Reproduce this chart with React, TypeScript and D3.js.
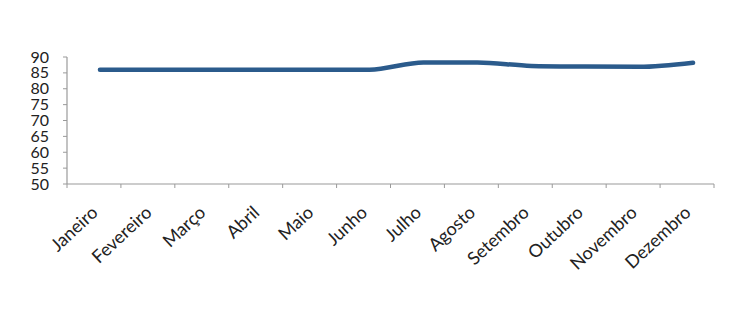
import React from "react";
import * as d3 from "d3";

const months = ["Janeiro", "Fevereiro", "Março", "Abril", "Maio", "Junho", "Julho", "Agosto", "Setembro", "Outubro", "Novembro", "Dezembro"];
const values = [86, 86, 86, 86, 86, 86, 88.3, 88.3, 87.2, 87, 86.9, 88.2];
const yTicks = [50, 55, 60, 65, 70, 75, 80, 85, 90];

const W = 749, H = 331;
const left = 67, right = 714, top = 57, bottom = 184;
const font = "'Lato', 'Open Sans', sans-serif";

export default function App() {
  const x = d3.scaleBand<string>().domain(months).range([left, right]);
  const xLine = d3.scaleBand<string>().domain(months).range([left + 6, right + 6]);
  const y = d3.scaleLinear().domain([50, 90]).range([bottom, top]);
  const line = d3
    .line<number>()
    .x((_, i) => (xLine(months[i]) as number) + xLine.bandwidth() / 2)
    .y((d) => y(d))
    .curve(d3.curveMonotoneX);
  const boundaries = d3.range(months.length + 1).map((i) => left + i * x.step());
  return (
    <svg width={W} height={H} style={{ position: "absolute", left: 0, top: 0, background: "#fff" }}>
      <line x1={left} x2={left} y1={top} y2={bottom} stroke="#9a9a9a" strokeWidth={1.2} />
      {yTicks.map((t) => (
        <g key={t}>
          <line x1={left - 4} x2={left} y1={y(t)} y2={y(t)} stroke="#9a9a9a" />
          <text x={left - 18} y={y(t)} dy="0.35em" textAnchor="end" fontFamily={font} fontSize={16} fill="#222">
            {t}
          </text>
        </g>
      ))}
      <line x1={left} x2={right} y1={bottom} y2={bottom} stroke="#9a9a9a" strokeWidth={1.2} />
      {boundaries.map((b, i) => (
        <line key={i} x1={b} x2={b} y1={bottom} y2={bottom + 4} stroke="#9a9a9a" />
      ))}
      {months.map((m) => {
        const cx = (x(m) as number) + x.bandwidth() / 2;
        return (
          <text
            key={m}
            transform={`translate(${cx + 5},${bottom + 30}) rotate(-43)`}
            textAnchor="end"
            fontFamily={font}
            fontSize={18}
            fill="#222"
          >
            {m}
          </text>
        );
      })}
      <path d={line(values) || ""} fill="none" stroke="#2b5b8c" strokeWidth={4.5} strokeLinecap="round" />
    </svg>
  );
}
